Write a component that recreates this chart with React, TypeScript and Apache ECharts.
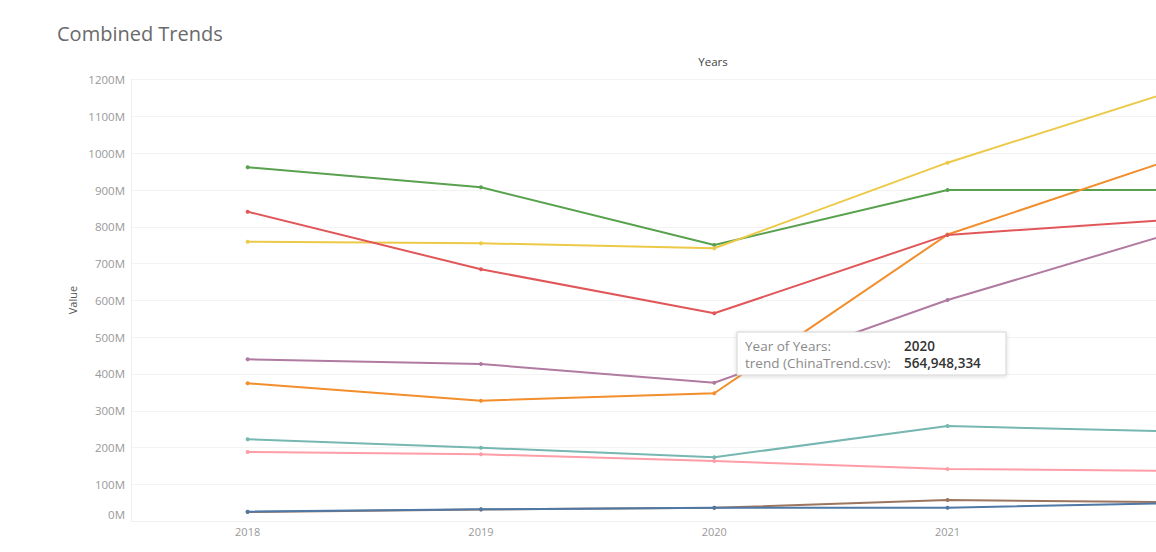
import React, { useEffect, useRef } from "react";
import * as echarts from "echarts";

const years = ["2018", "2019", "2020", "2021", "2022"];
// values in millions
const green = [962, 907.6, 750.7, 900, 900];
const red = [841, 684.6, 564.948334, 778, 821.4];
const yellow = [759.7, 755.3, 741.7, 974.4, 1175.9];
const orange = [374.7, 327.3, 347.5, 779, 991.5];
const purple = [440, 427, 376.3, 601, 789.6];
const teal = [222.4, 199.6, 173.5, 258.6, 243.3];
const pink = [187.9, 181.6, 163.4, 141.7, 136.4];
const brown = [24.5, 31.5, 36, 57.4, 51.3];
const blue = [25.6, 32, 36.4, 36.4, 49.3];

const seriesList = [
  { name: "green", data: green, color: "#59a14f" },
  { name: "yellow", data: yellow, color: "#edc948" },
  { name: "orange", data: orange, color: "#f28e2b" },
  { name: "red", data: red, color: "#e15759" },
  { name: "purple", data: purple, color: "#b07aa1" },
  { name: "teal", data: teal, color: "#76b7b2" },
  { name: "pink", data: pink, color: "#ff9da7" },
  { name: "brown", data: brown, color: "#9c755f" },
  { name: "blue", data: blue, color: "#4e79a7" },
];

const tooltipLabel1 = "Year of Years:";
const tooltipValue1 = "2020";
const tooltipLabel2 = "trend (ChinaTrend.csv):";
const tooltipValue2 = "564,948,334";

const FONT = "Open Sans";

export default function App() {
  const ref = useRef<HTMLDivElement>(null);
  useEffect(() => {
    if (!ref.current) return;
    const chart = echarts.init(ref.current, undefined, { renderer: "svg" });
    chart.setOption({
      animation: false,
      backgroundColor: "#ffffff",
      grid: { left: 131, right: 22.5, top: 79.7, bottom: 30.9 },
      xAxis: {
        type: "category",
        data: years,
        boundaryGap: true,
        axisLine: { show: true, lineStyle: { color: "#f0f0f0" } },
        axisTick: { show: false },
        axisLabel: {
          color: "#999999",
          fontSize: 11,
          fontFamily: FONT,
          margin: 5,
          interval: (i: number) => i < 4,
        },
        splitLine: { show: false },
      },
      yAxis: {
        type: "value",
        min: 0,
        max: 1200,
        interval: 100,
        axisLine: { show: true, lineStyle: { color: "#eeeeee" } },
        axisTick: { show: false },
        axisLabel: {
          color: "#999999",
          fontSize: 11.5,
          fontFamily: FONT,
          margin: 6,
          formatter: (v: number) => (v === 0 ? "{z|0M}" : `${v}M`),
          rich: {
            z: { padding: [0, 0, 14, 0], color: "#999999", fontSize: 11.5, fontFamily: FONT },
          },
        },
        splitLine: { show: true, lineStyle: { color: "#f3f3f3", width: 1 } },
      },
      series: seriesList.map((s) => ({
        type: "line",
        name: s.name,
        data: s.data,
        symbol: "circle",
        symbolSize: 4,
        z: 2,
        lineStyle: { color: s.color, width: 2 },
        itemStyle: { color: s.color },
        emphasis: { disabled: true },
      })),
      graphic: [
        {
          type: "text",
          left: 57,
          top: 23,
          style: { text: "Combined Trends", fill: "#6a6a6a", fontSize: 20, fontFamily: FONT },
        },
        {
          type: "text",
          x: 713,
          y: 61,
          style: {
            text: "Years",
            fill: "#444444",
            fontSize: 11.5,
            fontFamily: FONT,
            align: "center",
            verticalAlign: "middle",
          },
        },
        {
          type: "text",
          x: 72,
          y: 300,
          rotation: Math.PI / 2,
          style: {
            text: "Value",
            fill: "#555555",
            fontSize: 11,
            fontFamily: FONT,
            align: "center",
            verticalAlign: "middle",
          },
        },
        {
          type: "rect",
          z: 100,
          shape: { x: 737, y: 332, width: 269, height: 43 },
          style: {
            fill: "#ffffff",
            stroke: "#d4d4d4",
            lineWidth: 1,
            shadowBlur: 4,
            shadowColor: "rgba(0,0,0,0.15)",
            shadowOffsetY: 1,
          },
        },
        {
          type: "text",
          z: 101,
          x: 745,
          y: 346,
          style: { text: tooltipLabel1, fill: "#8a8a8a", fontSize: 13.5, fontFamily: FONT, verticalAlign: "middle" },
        },
        {
          type: "text",
          z: 101,
          x: 904,
          y: 346,
          style: { text: tooltipValue1, fill: "#333333", fontSize: 13.5, fontFamily: FONT, fontWeight: 600, verticalAlign: "middle" },
        },
        {
          type: "text",
          z: 101,
          x: 745,
          y: 363,
          style: { text: tooltipLabel2, fill: "#8a8a8a", fontSize: 13.5, fontFamily: FONT, verticalAlign: "middle" },
        },
        {
          type: "text",
          z: 101,
          x: 904,
          y: 363,
          style: { text: tooltipValue2, fill: "#333333", fontSize: 13.5, fontFamily: FONT, fontWeight: 600, verticalAlign: "middle" },
        },
      ],
    });
    return () => chart.dispose();
  }, []);
  return (
    <div style={{ position: "absolute", left: 0, top: 0, width: 1156, height: 552, overflow: "hidden", background: "#fff" }}>
      <div ref={ref} style={{ width: 1320, height: 552 }} />
    </div>
  );
}
